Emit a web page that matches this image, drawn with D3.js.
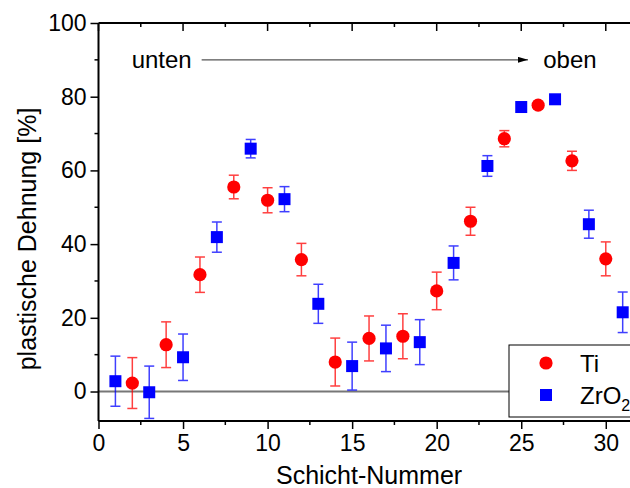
<!DOCTYPE html>
<html>
<head>
<meta charset="utf-8">
<script src="https://cdn.jsdelivr.net/npm/d3@7"></script>
<style>
  body { margin: 0; background: #fff; }
  svg { display: block; font-family: "Liberation Sans", Arial, sans-serif; }
</style>
</head>
<body>
<svg id="chart" width="630" height="488"></svg>
<script>
// layer numbers and measured strain (%)
const tiX   = [2, 4, 6, 8, 10, 12, 14, 16, 18, 20, 22, 24, 26, 28, 30];
const tiY   = [2.3, 12.7, 31.7, 55.5, 51.9, 35.8, 8.0, 14.4, 15.0, 27.3, 46.2, 68.6, 77.7, 62.6, 36.0];
const tiErr = [6.9, 6.2, 4.8, 3.2, 3.4, 4.4, 6.5, 6.1, 6.1, 5.1, 3.8, 2.2, 1.0, 2.6, 4.6];

const zrX   = [1, 3, 5, 7, 9, 11, 13, 15, 17, 19, 21, 23, 25, 27, 29, 31];
const zrY   = [2.8, -0.2, 9.3, 41.9, 65.9, 52.2, 23.8, 6.9, 11.7, 13.4, 34.9, 61.2, 77.2, 79.3, 45.4, 21.5];
const zrErr = [6.8, 7.1, 6.3, 4.1, 2.5, 3.4, 5.3, 6.5, 6.3, 6.1, 4.6, 2.8, 1.0, 1.0, 3.8, 5.5];

const xTicks = [0, 5, 10, 15, 20, 25, 30];
const yTicks = [0, 20, 40, 60, 80, 100];

var svg = d3.select('#chart');
// note: "top" is taken by window.top, so use plot* names
var plotLeft = 98.5, plotTop = 23, plotBottom = 421, plotRight = 639.6;

var x = d3.scaleLinear().domain([0, 32]).range([plotLeft, plotRight]);
var y = d3.scaleLinear().domain([-8, 100]).range([plotBottom, plotTop]);

var font = 23;

// zero line
svg.append('line')
  .attr('x1', x(0)).attr('x2', x(32))
  .attr('y1', y(0)).attr('y2', y(0))
  .style('stroke', '#777').style('stroke-width', 2);

// axes
var bottomAxis = d3.axisBottom(x).tickValues(xTicks).tickSize(8).tickPadding(6);
var leftAxis = d3.axisLeft(y).tickValues(yTicks).tickSize(8).tickPadding(4);

var gx = svg.append('g').attr('transform', 'translate(0,' + plotBottom + ')').call(bottomAxis);
var gy = svg.append('g').attr('transform', 'translate(' + plotLeft + ',0)').call(leftAxis);

[gx, gy].forEach(g => {
  g.attr('font-size', null).attr('font-family', null);
  g.select('.domain').style('stroke', '#000').style('stroke-width', 2);
  g.selectAll('.tick line').style('stroke', '#000').style('stroke-width', 1.5);
  g.selectAll('.tick text').style('font-size', font + 'px').style('fill', '#000');
});
gx.select('.domain').attr('d', 'M' + plotLeft + ',0H' + plotRight);
gy.select('.domain').attr('d', 'M0,' + plotBottom + 'V' + plotTop);

// minor ticks
var xMinor = d3.range(2.5, 32, 5);
var yMinor = d3.range(10, 100, 20);
svg.append('g').selectAll('line').data(xMinor).enter().append('line')
  .attr('x1', d => x(d)).attr('x2', d => x(d))
  .attr('y1', plotBottom).attr('y2', plotBottom + 4)
  .style('stroke', '#000').style('stroke-width', 1.5);
svg.append('g').selectAll('line').data(yMinor).enter().append('line')
  .attr('x1', plotLeft - 4).attr('x2', plotLeft)
  .attr('y1', d => y(d)).attr('y2', d => y(d))
  .style('stroke', '#000').style('stroke-width', 1.5);

// top axis (ticks inward)
svg.append('line')
  .attr('x1', plotLeft).attr('x2', plotRight).attr('y1', plotTop).attr('y2', plotTop)
  .style('stroke', '#000').style('stroke-width', 2);
svg.append('g').selectAll('line').data(xTicks.concat(xMinor)).enter().append('line')
  .attr('x1', d => x(d)).attr('x2', d => x(d))
  .attr('y1', plotTop).attr('y2', d => plotTop + (d % 5 === 0 ? 8 : 4))
  .style('stroke', '#000').style('stroke-width', 1.5);

// axis titles
svg.append('text')
  .attr('x', x(16)).attr('y', 484)
  .attr('text-anchor', 'middle')
  .style('font-size', '25px')
  .text('Schicht-Nummer');

svg.append('text')
  .attr('transform', 'translate(36,239) rotate(-90)')
  .attr('text-anchor', 'middle')
  .style('font-size', '25px')
  .text('plastische Dehnung [%]');

// annotation: unten -> oben
svg.append('defs').append('marker')
  .attr('id', 'arrow')
  .attr('viewBox', '0 0 10 6')
  .attr('refX', 10).attr('refY', 3)
  .attr('markerWidth', 10).attr('markerHeight', 6)
  .attr('markerUnits', 'userSpaceOnUse')
  .attr('orient', 'auto')
  .append('path').attr('d', 'M0,0L10,3L0,6Z').style('fill', '#000');

svg.append('text')
  .attr('x', x(1.96)).attr('y', y(90) + 8.5)
  .style('font-size', '24px')
  .text('unten');
svg.append('line')
  .attr('x1', x(6.1)).attr('x2', x(25.4))
  .attr('y1', y(90)).attr('y2', y(90))
  .style('stroke', '#555').style('stroke-width', 1.2)
  .attr('marker-end', 'url(#arrow)');
svg.append('text')
  .attr('x', x(26.3)).attr('y', y(90) + 8.5)
  .style('font-size', '24px')
  .text('oben');

// series
function drawSeries(xs, ys, errs, color, shape) {
  var data = xs.map((d, i) => ({x: d, y: ys[i], e: errs[i]}));
  var g = svg.append('g');
  var eb = g.selectAll('g.err').data(data).enter().append('g')
    .style('stroke', color).style('stroke-width', 1.5).style('opacity', 0.75);
  eb.append('line')
    .attr('x1', d => x(d.x)).attr('x2', d => x(d.x))
    .attr('y1', d => y(d.y - d.e)).attr('y2', d => y(d.y + d.e));
  eb.append('line')
    .attr('x1', d => x(d.x) - 5).attr('x2', d => x(d.x) + 5)
    .attr('y1', d => y(d.y + d.e)).attr('y2', d => y(d.y + d.e));
  eb.append('line')
    .attr('x1', d => x(d.x) - 5).attr('x2', d => x(d.x) + 5)
    .attr('y1', d => y(d.y - d.e)).attr('y2', d => y(d.y - d.e));

  if (shape === 'circle') {
    g.selectAll('circle').data(data).enter().append('circle')
      .attr('cx', d => x(d.x)).attr('cy', d => y(d.y)).attr('r', 6.6)
      .style('fill', color);
  } else {
    g.selectAll('rect').data(data).enter().append('rect')
      .attr('x', d => x(d.x) - 6).attr('y', d => y(d.y) - 6)
      .attr('width', 12).attr('height', 12)
      .style('fill', color);
  }
}
drawSeries(tiX, tiY, tiErr, '#ff0000', 'circle');
drawSeries(zrX, zrY, zrErr, '#0000ff', 'square');

// legend
var lg = svg.append('g');
lg.append('rect')
  .attr('x', 509).attr('y', 345).attr('width', 140).attr('height', 72)
  .style('fill', '#fff').style('stroke', '#000').style('stroke-width', 1);
lg.append('circle').attr('cx', 546).attr('cy', 363).attr('r', 6.6).style('fill', '#ff0000');
lg.append('rect').attr('x', 540).attr('y', 389).attr('width', 12).attr('height', 12).style('fill', '#0000ff');
lg.append('text').attr('x', 580).attr('y', 372).style('font-size', '24px').text('Ti');
var zt = lg.append('text').attr('x', 580).attr('y', 404).style('font-size', '24px');
zt.append('tspan').text('ZrO');
zt.append('tspan').attr('dy', 7).style('font-size', '16px').text('2');
</script>
</body>
</html>
